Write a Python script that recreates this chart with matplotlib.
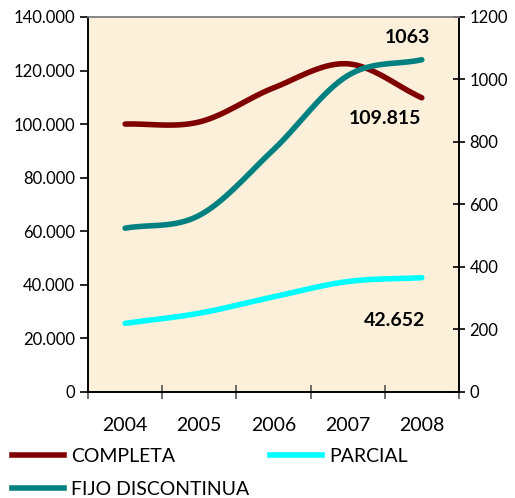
import numpy as np
import matplotlib.pyplot as plt
from matplotlib.ticker import FuncFormatter
from matplotlib.lines import Line2D

# ---------------- DATA ----------------
years = ["2004", "2005", "2006", "2007", "2008"]
completa = [100000, 100800, 113500, 122500, 109815]
parcial = [25600, 29400, 35500, 41200, 42652]
fijo_discontinua = [524, 565, 775, 1012, 1063]


def smooth(y, n=30):
    # catmull-rom style smoothing, like excel's smoothed lines
    y = np.asarray(y, dtype=float)
    x = np.arange(len(y), dtype=float)
    px = np.concatenate([[2 * x[0] - x[1]], x, [2 * x[-1] - x[-2]]])
    py = np.concatenate([[2 * y[0] - y[1]], y, [2 * y[-1] - y[-2]]])
    xs, ys = [], []
    for i in range(1, len(px) - 2):
        t = np.linspace(0, 1, n)
        for p, out in ((px, xs), (py, ys)):
            p0, p1, p2, p3 = p[i - 1], p[i], p[i + 1], p[i + 2]
            out.extend(0.5 * ((2 * p1) + (-p0 + p2) * t
                              + (2 * p0 - 5 * p1 + 4 * p2 - p3) * t ** 2
                              + (-p0 + 3 * p1 - 3 * p2 + p3) * t ** 3))
    return np.array(xs), np.array(ys)


plt.rcParams['font.family'] = ['Lato', 'DejaVu Sans']

fig = plt.figure(figsize=(5.15, 4.98), dpi=100)
ax = fig.add_axes([0.171, 0.213, 0.72, 0.753])
ax.set_facecolor("#fcf0da")
ax2 = ax.twinx()

red = "#800000"
cyan = "#00ffff"
teal = "#008080"

x, y = smooth(completa)
ax.plot(x, y, color=red, lw=4, solid_capstyle='round')
x, y = smooth(parcial)
ax.plot(x, y, color=cyan, lw=4, solid_capstyle='round')
x, y = smooth(fijo_discontinua)
ax2.plot(x, y, color=teal, lw=4, solid_capstyle='round')

ax.set_xlim(-0.5, 4.5)
ax.set_ylim(0, 140000)
ax2.set_ylim(0, 1200)

ax.set_yticks(np.arange(0, 140001, 20000))
ax.yaxis.set_major_formatter(
    FuncFormatter(lambda v, p: f"{int(v):,}".replace(",", ".")))
ax2.set_yticks(np.arange(0, 1201, 200))

ax.set_xticks(np.arange(-0.5, 5, 1))
ax.set_xticklabels([])
ax.set_xticks(np.arange(5), minor=True)
ax.set_xticklabels(years, minor=True)
ax.tick_params(axis='x', which='minor', length=0, labelsize=14, pad=18)
ax.tick_params(axis='x', which='major', direction='inout', length=10,
               width=1.2, color="#555555")
ax.tick_params(axis='y', direction='out', length=6, width=1.2, labelsize=12)
ax2.tick_params(axis='y', direction='inout', length=8, width=1.2, labelsize=12)

for a in (ax, ax2):
    a.spines['top'].set_color("#888888")
    a.spines['top'].set_linewidth(1.2)
    for s in ('left', 'right', 'bottom'):
        a.spines[s].set_linewidth(1.2)

ax.text(3.8, 132500, "1063", fontsize=14, fontweight='bold', ha='center', va='center')
ax.text(3.5, 102000, "109.815", fontsize=14, fontweight='bold', ha='center', va='center')
ax.text(3.63, 26500, "42.652", fontsize=14, fontweight='bold', ha='center', va='center')

leg_kw = dict(loc='upper left', frameon=False, fontsize=14, handlelength=2.7,
              handletextpad=0.35, labelspacing=0.8, borderaxespad=0,
              borderpad=0)
fig.legend([Line2D([], [], color=red, lw=4), Line2D([], [], color=teal, lw=4)],
           ["COMPLETA", "FIJO DISCONTINUA"],
           bbox_to_anchor=(0.023, 0.1), **leg_kw)
fig.legend([Line2D([], [], color=cyan, lw=4)], ["PARCIAL"],
           bbox_to_anchor=(0.524, 0.1), **leg_kw)

fig.savefig("out.png", dpi=100)
